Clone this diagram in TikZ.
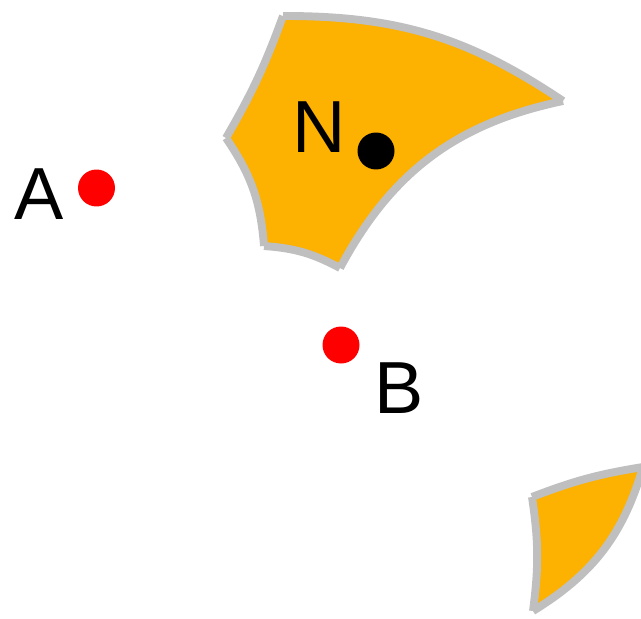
\documentclass[tikz,border=0pt]{standalone}
\usepackage{fontspec}
\setmainfont{Liberation Sans}
\usetikzlibrary{positioning}
\definecolor{zoneorange}{HTML}{FDB100}
\definecolor{rimgray}{HTML}{BFBFBF}
\definecolor{sitered}{HTML}{FF0000}

\begin{document}
\begin{tikzpicture}[x=0.02cm, y=-0.02cm,
    rim/.style={draw=rimgray, line width=4.5pt},
    site/.style={circle, inner sep=0pt, minimum size=0.74cm},
    tag/.style={inner sep=0pt, font=\fontsize{42}{42}\selectfont}]
    \useasboundingbox (0,0) rectangle (641,618);

    % upper region
    \coordinate (p1) at (283,16);
    \coordinate (p2) at (563,101);
    \coordinate (p3) at (340,268);
    \coordinate (p4) at (264,246);
    \coordinate (p5) at (226,138);
    \fill[zoneorange] (p1) to[bend left=17] (p2) to[bend right=25] (p3)
      to[bend right=12] (p4) to[bend right=15] (p5) to[bend right=5] (p1);
    \draw[rim] (p1) to[bend left=17] (p2);
    \draw[rim] (p2) to[bend right=25] (p3);
    \draw[rim] (p3) to[bend right=12] (p4);
    \draw[rim] (p4) to[bend right=15] (p5);
    \draw[rim] (p5) to[bend right=5] (p1);

    % lower region
    \coordinate (q1) at (532,497);
    \coordinate (q2) at (643,467);
    \coordinate (q3) at (533,611);
    \fill[zoneorange] (q1) to[bend left=6] (q2) to[bend left=21] (q3)
      to[bend right=8] (q1);
    \draw[rim] (q1) to[bend left=6] (q2);
    \draw[rim] (q2) to[bend left=21] (q3);
    \draw[rim] (q3) to[bend right=8] (q1);

    \node[site, fill=sitered] (A) at (96.5,188) {};
    \node[site, fill=sitered] (B) at (341,345) {};
    \node[site, fill=black] (N) at (376,151) {};

    \node[tag] (Alabel) at (39,194) {A};
    \node[tag] (Blabel) at (399.5,388) {B};
    \node[tag] (Nlabel) at (319.5,127) {N};
  \end{tikzpicture}
\end{document}
